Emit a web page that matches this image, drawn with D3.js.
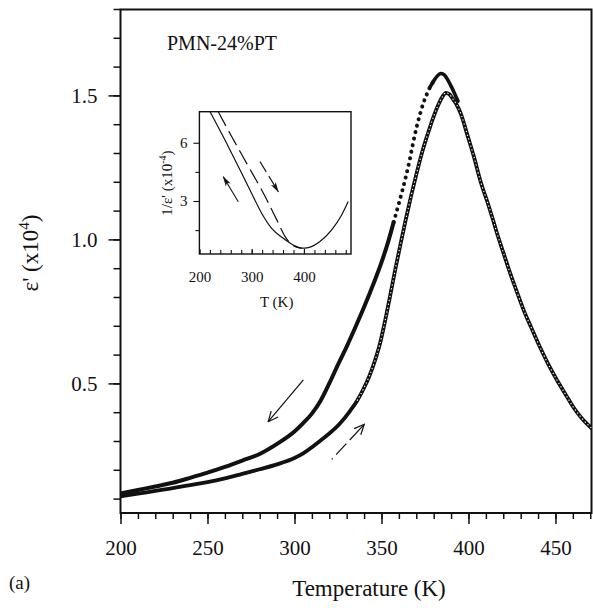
<!DOCTYPE html>
<html><head><meta charset="utf-8">
<script src="https://cdn.jsdelivr.net/npm/d3@7"></script>
<style>
body{margin:0;background:#fff;}
</style></head><body>
<svg id="c" width="593" height="608"></svg>
<script>
// ---------- data ----------
// main panel: epsilon' (x10^4) vs Temperature (K)
const coolT = [200,210,220,230,240,250,260,270,280,290,300,305,310,315,320,325,330,335,340,345,350,354,357,360,362,364,366,368,370,372,374,376,378,380,382,384,386,388,390,392,394];
const coolV = [0.118,0.13,0.142,0.155,0.172,0.19,0.21,0.232,0.255,0.29,0.333,0.362,0.395,0.44,0.5,0.565,0.628,0.695,0.765,0.84,0.92,0.995,1.06,1.125,1.17,1.218,1.27,1.33,1.385,1.432,1.472,1.503,1.53,1.55,1.567,1.576,1.572,1.555,1.532,1.507,1.48];
const heatT = [200,210,220,230,240,250,260,270,280,290,300,305,310,315,320,326,332,336,340,343,346,349,352,355,358,361,364,367,370,373,376,379,382,385,387,389,391,393,396,399,403,407,411,414,417,420,424,428,432,436,441,446,451,456,460,465,470.8];
const heatV = [0.108,0.117,0.127,0.136,0.147,0.157,0.17,0.186,0.202,0.219,0.241,0.257,0.278,0.302,0.326,0.36,0.405,0.44,0.485,0.525,0.575,0.635,0.715,0.805,0.898,0.985,1.07,1.15,1.225,1.295,1.355,1.41,1.458,1.495,1.509,1.504,1.488,1.47,1.43,1.37,1.29,1.2,1.128,1.07,1.01,0.955,0.882,0.815,0.75,0.695,0.627,0.565,0.51,0.46,0.42,0.38,0.344];
// inset: 1/epsilon' (x10^-4) vs T (K)
const insetCoolT = [220.3,245.7,271.3,296.7,319.1,338.2,360.4,379.5,395.6,408.2,430.6,453,472.1,484.7];
const insetCoolV = [7.6,6.31,4.94,3.57,2.37,1.59,1.08,0.73,0.57,0.6,0.91,1.51,2.28,2.97];
const insetHeatT = [236.1,258.5,290.4,322.2,347.8,363.7,379.5,395.6];
const insetHeatV = [7.6,6.48,4.94,3.41,2.04,1.18,0.70,0.57];
// ticks
const xTicks = [200,250,300,350,400,450];
const yTicks = [0.5,1.0,1.5];
const insetXTicks = [200,300,400];
const insetYTicks = [3,6];
// annotation arrows (data units): [T0,v0,T1,v1]
const mainCoolArrow = [305.1,0.512,284.9,0.367];
const mainHeatArrow = [321.4,0.236,340.1,0.358];
const insetCoolArrow = [274.4,2.96,245.7,4.25];
const insetHeatArrow = [315.9,5.03,350.9,3.48];

// ---------- drawing ----------
const FONT = '"Liberation Serif","DejaVu Serif","Noto Serif",Times,serif';
const svg = d3.select('#c').attr('font-family',FONT);
const ink = '#111';
const x = d3.scaleLinear().domain([200,471]).range([120.5,592]);
const y = d3.scaleLinear().domain([0.05,1.8]).range([513,9]);

const defs = svg.append('defs');
defs.append('marker').attr('id','openHead').attr('viewBox','0 0 12 12').attr('refX',11).attr('refY',6)
  .attr('markerWidth',12).attr('markerHeight',12).attr('markerUnits','userSpaceOnUse').attr('orient','auto')
  .append('path').attr('d','M1,1.5 L11,6 L1,10.5').attr('fill','none').attr('stroke',ink).attr('stroke-width',1.2);
defs.append('marker').attr('id','fillHead').attr('viewBox','0 0 12 8').attr('refX',11).attr('refY',4)
  .attr('markerWidth',11).attr('markerHeight',7).attr('markerUnits','userSpaceOnUse').attr('orient','auto')
  .append('path').attr('d','M0,0.8 L12,4 L0,7.2 L3,4 Z').attr('fill',ink);
defs.append('clipPath').attr('id','mainClip').append('rect').attr('x',120.5).attr('y',9).attr('width',471.5).attr('height',504);

function styleAxis(g,fs,w){
  g.attr('font-family',FONT);
  g.select('.domain').remove();
  g.selectAll('.tick line').attr('stroke',ink).attr('stroke-width',w);
  g.selectAll('.tick text').attr('font-size',fs).attr('fill',ink).attr('font-family',FONT);
}

// axes main
const minorX = d3.range(200,471,10);
const minorY = d3.range(0.1,1.81,0.1).map(v=>+v.toFixed(2));
const gx = svg.append('g').attr('transform','translate(0,513)');
gx.call(d3.axisBottom(x).tickValues(minorX).tickSize(6).tickFormat(''));
const gx2 = svg.append('g').attr('transform','translate(0,513)');
gx2.call(d3.axisBottom(x).tickValues(xTicks).tickSize(11).tickPadding(16).tickFormat(d3.format('d')));
const gy = svg.append('g').attr('transform','translate(120.5,0)');
gy.call(d3.axisLeft(y).tickValues(minorY).tickSize(7).tickFormat(''));
const gy2 = svg.append('g').attr('transform','translate(120.5,0)');
gy2.call(d3.axisLeft(y).tickValues(yTicks).tickSize(12).tickPadding(11).tickFormat(d3.format('.1f')));
[gx,gx2,gy,gy2].forEach(g=>styleAxis(g,21,1.5));
// frame
svg.append('rect').attr('x',120.5).attr('y',9.5).attr('width',471).attr('height',503.5)
  .attr('fill','none').attr('stroke',ink).attr('stroke-width',2);

// curves
const line = d3.line().x(d=>x(d[0])).y(d=>y(d[1])).curve(d3.curveMonotoneX);
const cool = coolT.map((t,i)=>[t,coolV[i]]);
const heat = heatT.map((t,i)=>[t,heatV[i]]);
const plot = svg.append('g').attr('clip-path','url(#mainClip)');
// cooling: solid at low T and near peak, dotted on the steep rise
plot.append('path').attr('d',line(cool.filter(d=>d[0]<=357))).attr('fill','none').attr('stroke',ink).attr('stroke-width',4).attr('stroke-linecap','round');
plot.append('path').attr('d',line(cool.filter(d=>d[0]>=357&&d[0]<=380))).attr('fill','none').attr('stroke',ink)
  .attr('stroke-width',4).attr('stroke-linecap','round').attr('stroke-dasharray','0.1,6.5');
plot.append('path').attr('d',line(cool.filter(d=>d[0]>=378))).attr('fill','none').attr('stroke',ink).attr('stroke-width',3.6).attr('stroke-linecap','round');
// heating: thick line with open-circle texture at higher T
plot.append('path').attr('d',line(heat)).attr('fill','none').attr('stroke',ink).attr('stroke-width',3.8).attr('stroke-linecap','round');
plot.append('path').attr('d',line(heat.filter(d=>d[0]>=335))).attr('fill','none').attr('stroke','#fff')
  .attr('stroke-width',1.1).attr('stroke-dasharray','1.3,2.6');

// arrows
function arrow(g,sx,sy,a,head,dash,w){
  const p = g.append('line').attr('x1',sx(a[0])).attr('y1',sy(a[1])).attr('x2',sx(a[2])).attr('y2',sy(a[3]))
    .attr('stroke',ink).attr('stroke-width',w).attr('marker-end',`url(#${head})`);
  if(dash) p.attr('stroke-dasharray',dash);
  return p;
}
arrow(svg,x,y,mainCoolArrow,'openHead',null,1.2);
arrow(svg,x,y,mainHeatArrow,'openHead','1.5,5,15,5,40',1.2);

// labels
svg.append('text').attr('x',167).attr('y',50).attr('font-size',20).attr('fill',ink).text('PMN-24%PT');
svg.append('text').attr('x',369).attr('y',596).attr('text-anchor','middle').attr('font-size',23).attr('fill',ink).text('Temperature (K)');
svg.append('text').attr('x',9).attr('y',589).attr('font-size',19).attr('fill',ink).text('(a)');
const yl = svg.append('text').attr('transform','translate(38,253) rotate(-90)').attr('text-anchor','middle').attr('font-size',23).attr('fill',ink);
yl.append('tspan').text("ε' (x10");
yl.append('tspan').attr('font-size',15).attr('dy',-9).text('4');
yl.append('tspan').attr('dy',9).text(')');

// ---------- inset ----------
const ix = d3.scaleLinear().domain([200,490]).range([199.4,351]);
const iy = d3.scaleLinear().domain([0.27,7.6]).range([254,111.7]);
defs.append('clipPath').attr('id','insetClip').append('rect').attr('x',199.4).attr('y',111.7).attr('width',151.6).attr('height',142.3);
svg.append('rect').attr('x',199.4).attr('y',111.7).attr('width',151.6).attr('height',142.3).attr('fill','#fff');
const ig = svg.append('g');
const igx = ig.append('g').attr('transform','translate(0,254)');
igx.call(d3.axisBottom(ix).tickValues(d3.range(200,490,20)).tickSize(-4).tickFormat(''));
const igx2 = ig.append('g').attr('transform','translate(0,254)');
igx2.call(d3.axisBottom(ix).tickValues(insetXTicks).tickSize(-5).tickPadding(17).tickFormat(d3.format('d')));
const igy = ig.append('g').attr('transform','translate(199.4,0)');
igy.call(d3.axisLeft(iy).tickValues([1.5,4.5]).tickSize(4).tickFormat(''));
const igy2 = ig.append('g').attr('transform','translate(199.4,0)');
igy2.call(d3.axisLeft(iy).tickValues(insetYTicks).tickSize(6).tickPadding(6).tickFormat(d3.format('d')));
[igx,igx2,igy,igy2].forEach(g=>styleAxis(g,15,1.1));
ig.append('rect').attr('x',199.4).attr('y',111.7).attr('width',151.6).attr('height',142.3)
  .attr('fill','none').attr('stroke',ink).attr('stroke-width',1.4);
const iline = d3.line().x(d=>ix(d[0])).y(d=>iy(d[1])).curve(d3.curveMonotoneX);
const ip = ig.append('g').attr('clip-path','url(#insetClip)');
ip.append('path').attr('d',iline(insetCoolT.map((t,i)=>[t,insetCoolV[i]]))).attr('fill','none').attr('stroke',ink).attr('stroke-width',1.2);
ip.append('path').attr('d',iline(insetHeatT.map((t,i)=>[t,insetHeatV[i]]))).attr('fill','none').attr('stroke',ink).attr('stroke-width',1.2).attr('stroke-dasharray','16,6');
arrow(ig,ix,iy,insetCoolArrow,'fillHead',null,1.1);
arrow(ig,ix,iy,insetHeatArrow,'fillHead','12,5',1.1);
ig.append('text').attr('x',276.7).attr('y',307).attr('text-anchor','middle').attr('font-size',15).attr('fill',ink).text('T (K)');
const il = ig.append('text').attr('transform','translate(172,183) rotate(-90)').attr('text-anchor','middle').attr('font-size',15).attr('fill',ink);
il.append('tspan').text("1/ε' (x10");
il.append('tspan').attr('font-size',10).attr('dy',-6).text('-4');
il.append('tspan').attr('dy',6).text(')');
</script>
</body></html>
